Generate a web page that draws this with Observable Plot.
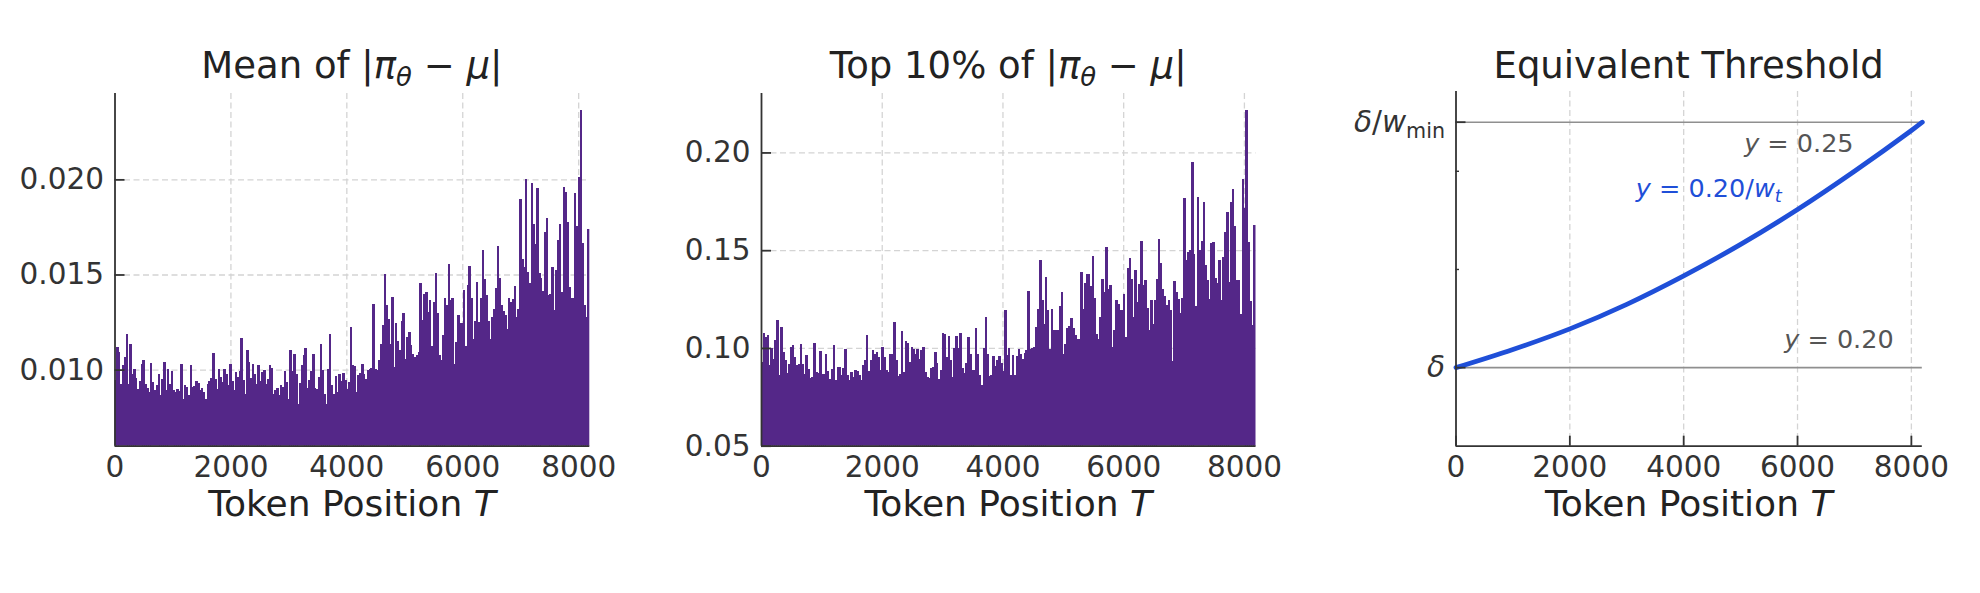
<!DOCTYPE html>
<html><head><meta charset="utf-8">
<script src="https://cdn.jsdelivr.net/npm/d3@7"></script>
<script src="https://cdn.jsdelivr.net/npm/@observablehq/plot@0.6"></script>
<style>
html,body{margin:0;padding:0;background:#fff;}
#fig{position:relative;width:1980px;height:593px;overflow:hidden;background:#fff;}
.panel{position:absolute;top:0;width:660px;height:593px;}
#overlay{position:absolute;left:0;top:0;pointer-events:none;}
</style></head><body><div id="fig"></div>
<script>
// ---------------- data ----------------
const T_MAX = 8192;
const xTicks = [0, 2000, 4000, 6000, 8000];
const meanTicks = [0.010, 0.015, 0.020];
const topTicks = [0.05, 0.10, 0.15, 0.20];
const meanDomain = [0.006, 0.02454];
const topDomain = [0.05, 0.2304];
const thrDomain = [0.184, 0.25625];
const thrMajor = [0.20, 0.25];
const thrMinor = [0.22, 0.24];
const thrLabels = ["*δ*", "*δ*/*w*_{min}"];

// Mean of |pi_theta - mu| per token bin
const meanDev = [
0.00944,0.01119,0.01093,0.00926,0.01023,0.01067,0.01189,0.00926,0.01132,0.00975,
0.01005,0.00958,0.00896,0.00940,0.01032,0.01049,0.00926,0.00905,0.00882,0.01037,
0.00935,0.00891,0.00918,0.00979,0.00868,0.00950,0.01039,0.00891,0.01002,0.00926,
0.00991,0.00891,0.00882,0.00900,0.00890,0.01032,0.00847,0.00919,0.00909,0.00865,
0.01023,0.00909,0.00915,0.00940,0.00930,0.00891,0.00902,0.00882,0.00844,0.00925,
0.00940,0.00958,0.01089,0.00953,0.00900,0.01004,0.00961,0.00935,0.01002,0.00975,
0.00918,0.01028,0.00940,0.00891,0.00988,0.00960,0.00993,0.01168,0.00947,0.00874,
0.01105,0.01040,0.00955,0.01028,0.00979,0.00926,0.01023,0.00940,0.00988,0.00996,
0.00926,0.00950,0.01023,0.01010,
0.00874,0.00891,0.00905,0.00865,0.00918,0.00909,0.00991,0.00935,0.00847,0.01102,
0.00991,0.01084,0.00979,0.00821,0.00930,0.01023,0.01075,0.01116,0.00904,0.00944,
0.00991,0.01081,0.00904,0.00900,0.00960,0.01132,0.00996,0.00870,0.00821,0.01005,
0.01186,0.00918,0.00874,0.00967,0.00882,0.00979,0.00940,0.00982,0.00944,0.00900,
0.00935,0.01225,0.01026,0.01018,0.00882,0.00970,0.00982,0.01028,0.00979,0.00953,
0.00996,0.01005,0.01009,0.01344,0.01005,0.00996,0.01053,0.01137,0.01233,0.01500,
0.01339,0.01268,0.01137,0.01382,0.01014,0.01247,0.01151,0.01102,0.01254,0.01295,
0.01058,0.01172,0.01198,0.01128,0.01084,0.01067,0.01075,0.01093,0.01456,0.01260,
0.01400,0.01410,0.01303,0.01365,
0.01123,0.01354,0.01509,0.01298,0.01075,0.01049,0.01184,0.01379,0.01339,0.01554,
0.01368,0.01374,0.01032,0.01146,0.01286,0.01246,0.01246,0.01417,0.01125,0.01444,
0.01544,0.01374,0.01160,0.01256,0.01458,0.01249,0.01379,0.01628,0.01475,0.01393,
0.01256,0.01163,0.01274,0.01316,0.01430,0.01649,0.01479,0.01339,0.01307,0.01289,
0.01216,0.01374,0.01353,0.01370,0.01440,0.01277,0.01316,0.01896,0.01584,0.01537,
0.02000,0.01514,0.01453,0.01979,0.01763,0.01658,0.01952,0.01509,0.01484,0.01414,
0.01721,0.01798,0.01391,0.01396,0.01540,0.01312,0.01523,0.01681,0.01768,0.01409,
0.01961,0.01935,0.01777,0.01435,0.01379,0.01379,0.01926,0.01754,0.02014,0.02365,
0.01663,0.01339,0.01277,0.01737
];

// Top 10% of |pi_theta - mu| per token bin
const top10Dev = [
0.0928,0.1077,0.1056,0.1068,0.0911,0.1002,0.0945,0.1039,0.1145,0.0860,
0.1107,0.0980,0.0937,0.0872,0.0916,0.1005,0.1017,0.0954,0.0911,0.0916,
0.1019,0.0916,0.0865,0.0962,0.0894,0.0848,0.0852,0.1026,0.0877,0.0872,
0.0985,0.0869,0.0869,0.0971,0.0882,0.0843,0.0894,0.1014,0.0835,0.0903,
0.0903,0.0860,0.0899,0.0995,0.0860,0.0835,0.0877,0.0852,0.0889,0.0881,
0.0860,0.0838,0.0911,0.0940,0.1065,0.0882,0.0937,0.0988,0.0971,0.0980,
0.0954,0.0886,0.1005,0.0954,0.0886,0.0877,0.0971,0.0971,0.1133,0.0940,
0.0855,0.0865,0.1087,0.0877,0.1034,0.1026,0.0928,0.1005,0.0997,0.0971,
0.0997,0.0945,
0.0991,0.1005,0.0877,0.0852,0.0848,0.0899,0.0903,0.0980,0.0923,0.0843,
0.0889,0.1077,0.1073,0.0954,0.1060,0.0940,0.0852,0.1002,0.1061,0.1002,
0.1078,0.0899,0.0872,0.0923,0.1056,0.0968,0.0886,0.0889,0.1104,0.0971,
0.0864,0.0809,0.1002,0.1157,0.0971,0.0855,0.0860,0.0957,0.0908,0.0940,
0.0957,0.0923,0.0882,0.1193,0.0962,0.1002,0.0860,0.0962,0.0860,0.0957,
0.0997,0.0971,0.0945,0.0976,0.0988,0.1292,0.0997,0.1000,0.1005,0.1107,
0.1201,0.1452,0.1247,0.1125,0.1363,0.1196,0.0997,0.1201,0.1090,0.1090,
0.1090,0.1213,0.1287,0.0971,0.1022,0.1101,0.1114,0.1155,0.1104,0.1065,
0.1048,0.1048,0.1389,0.1201,0.1333,0.1380,
0.1380,0.1316,0.1471,0.1258,0.1073,0.1048,0.1159,0.1355,0.1287,0.1514,
0.1299,0.1321,0.1005,0.1094,0.1247,0.1227,0.1193,0.1196,0.1278,0.1056,
0.1411,0.1462,0.1355,0.1159,0.1397,0.1235,0.1329,0.1548,0.1321,0.1346,
0.1206,0.1094,0.1244,0.1125,0.1247,0.1355,0.1556,0.1435,0.1299,0.1264,
0.1218,0.1247,0.1196,0.0933,0.1343,0.1287,0.1252,0.1179,0.1258,0.1768,
0.1449,0.1491,0.1503,0.1952,0.1483,0.1213,0.1773,0.1500,0.1548,0.1744,
0.1423,0.1346,0.1252,0.1539,0.1543,0.1360,0.1333,0.1449,0.1247,0.1466,
0.1594,0.1696,0.1338,0.1744,0.1812,0.1623,0.1350,0.1350,0.1172,0.1862,
0.1718,0.2216,0.1543,0.1241,0.1116,0.1628
];

// Equivalent threshold curve y = 0.20 / w_t
const thrT = [0, 1000, 2000, 3000, 4000, 5000, 6000, 7000, 8000, 8192];
const thrY = [0.2000, 0.2037, 0.2079, 0.2129, 0.2187, 0.2251, 0.2322, 0.2400, 0.2483, 0.2500];
const refLines = [0.20, 0.25];

// annotations in the threshold panel
const noteX = [5062, 5766, 3160];
const noteY = [0.2440, 0.2040, 0.2348];
const noteText = ["*y* = 0.25", "*y* = 0.20", "*y* = 0.20/*w*_{*t*}"];
const noteColor = ["#555555", "#555555", "#1f4fd8"];

const titles = ["Mean of |*π*_{*θ*} − *μ*|", "Top 10% of |*π*_{*θ*} − *μ*|", "Equivalent Threshold"];
const xLabel = "Token Position *T*";

// ---------------- helpers ----------------
const FONT = '"DejaVu Sans", "Liberation Sans", sans-serif';
const INK = "#333333";
const PURPLE = "#542788";
const BLUE = "#1f4fd8";
const GRID = {stroke: "#d4d4d4", strokeOpacity: 1, strokeWidth: 1.3, strokeDasharray: "6,3.5"};
const TICK_FS = 29.5;
const TITLE_FS = 37;

function toBars(values) {
  const w = T_MAX / values.length;
  return values.map((v, i) => ({x1: i * w, x2: (i + 1) * w, v}));
}
function parseRich(s) {
  const out = []; let i = 0, sub = false, italic = false, buf = "";
  const push = () => { if (buf) { out.push({text: buf, italic, sub}); buf = ""; } };
  while (i < s.length) {
    const c = s[i];
    if (c === "*") { push(); italic = !italic; i++; continue; }
    if (c === "_" && s[i + 1] === "{") { push(); sub = true; i += 2; continue; }
    if (c === "}" && sub) { push(); sub = false; i++; continue; }
    buf += c; i++;
  }
  push(); return out;
}
function setRich(el, s, size) {
  const t = d3.select(el); t.text(null);
  let shifted = false;
  for (const seg of parseRich(s)) {
    const ts = t.append("tspan").text(seg.text);
    if (seg.italic) ts.attr("font-style", "italic");
    if (seg.sub) {
      ts.attr("font-size", size * 0.7);
      if (!shifted) { ts.attr("dy", size * 0.22); shifted = true; }
    } else if (shifted) { ts.attr("dy", -size * 0.22); shifted = false; }
  }
}
function richify(svg) {
  d3.select(svg).selectAll("text").each(function () {
    const s = this.textContent;
    if (s.includes("*") || s.includes("_{")) {
      const size = parseFloat(getComputedStyle(this).fontSize) || TICK_FS;
      setRich(this, s, size);
    }
  });
}
const baseStyle = {fontFamily: FONT, fontSize: TICK_FS + "px", color: INK, background: "transparent", overflow: "visible"};

function barPanel(values, domain, yTicks, fmt, margins) {
  return Plot.plot({
    width: 660, height: 593, ...margins,
    style: baseStyle,
    x: {domain: [0, T_MAX], label: null},
    y: {domain, label: null},
    marks: [
      Plot.gridX(xTicks.slice(1), GRID),
      Plot.gridY(yTicks, GRID),
      Plot.rect(toBars(values), {x1: "x1", x2: "x2", y1: 0, y2: "v", fill: PURPLE, clip: true, insetLeft: -0.3, insetRight: -0.3, shapeRendering: "crispEdges"}),
      Plot.ruleX([0], {stroke: INK, strokeWidth: 1.8}),
      Plot.ruleY([domain[0]], {stroke: INK, strokeWidth: 1.8}),
      Plot.axisY(yTicks, {tickSize: -10, tickFormat: () => "", stroke: INK, strokeWidth: 1.8, label: null}),
      Plot.axisY(yTicks, {tickSize: 0, tickPadding: 11, tickFormat: d3.format(fmt), fill: INK, fontSize: TICK_FS, label: null}),
      Plot.axisX(xTicks, {tickSize: 0, tickPadding: 10, tickFormat: d3.format("d"), fill: INK, fontSize: TICK_FS, label: null})
    ]
  });
}

// ---------------- build ----------------
const fig = document.getElementById("fig");
const layouts = [
  {left: 0, m: {marginLeft: 114.5, marginRight: 70.7, marginTop: 93, marginBottom: 147.3}},
  {left: 660, m: {marginLeft: 101, marginRight: 64.5, marginTop: 93, marginBottom: 147.3}},
  {left: 1320, m: {marginLeft: 135.5, marginRight: 58.2, marginTop: 91, marginBottom: 147.3}}
];

const p1 = barPanel(meanDev, meanDomain, meanTicks, ".3f", layouts[0].m);
const p2 = barPanel(top10Dev, topDomain, topTicks, ".2f", layouts[1].m);

const thrData = thrT.map((t, i) => ({t, y: thrY[i]}));
const notes = noteX.map((x, i) => ({x, y: noteY[i], text: noteText[i], color: noteColor[i]}));
const p3 = Plot.plot({
  width: 660, height: 593, ...layouts[2].m,
  style: baseStyle,
  x: {domain: [0, T_MAX], label: null},
  y: {domain: thrDomain, label: null},
  marks: [
    Plot.gridX(xTicks.slice(1), GRID),
    Plot.ruleY(refLines, {stroke: "#8f8f8f", strokeWidth: 1.6}),
    Plot.line(thrData, {x: "t", y: "y", stroke: BLUE, strokeWidth: 4.8, curve: "catmull-rom"}),
    Plot.text(notes, {x: "x", y: "y", text: "text", fill: "color", textAnchor: "start", lineAnchor: "bottom", fontSize: 25.5}),
    Plot.ruleX([0], {stroke: INK, strokeWidth: 1.8}),
    Plot.ruleY([thrDomain[0]], {stroke: INK, strokeWidth: 1.8}),
    Plot.axisY(thrMajor, {tickSize: -10, tickFormat: () => "", stroke: INK, strokeWidth: 1.8, label: null}),
    Plot.axisY(thrMinor, {tickSize: -3.5, tickFormat: () => "", stroke: INK, strokeWidth: 1.4, label: null}),
    Plot.axisY(thrMajor, {tickSize: 0, tickPadding: 11, tickFormat: d => thrLabels[thrMajor.indexOf(d)], fill: INK, fontSize: TICK_FS, label: null}),
    Plot.axisX(xTicks, {tickSize: -10, tickFormat: () => "", stroke: INK, strokeWidth: 1.8, label: null}),
    Plot.axisX(xTicks, {tickSize: 0, tickPadding: 10, tickFormat: d3.format("d"), fill: INK, fontSize: TICK_FS, label: null})
  ]
});

[p1, p2, p3].forEach((svg, i) => {
  const div = document.createElement("div");
  div.className = "panel";
  div.style.left = layouts[i].left + "px";
  div.appendChild(svg);
  fig.appendChild(div);
  richify(svg);
});

// titles and axis labels
const ov = d3.select(fig).append("svg").attr("id", "overlay")
  .attr("width", 1980).attr("height", 593)
  .attr("font-family", FONT).attr("fill", "#222");
layouts.forEach((L, i) => {
  const cx = L.left + (L.m.marginLeft + 660 - L.m.marginRight) / 2;
  const t = ov.append("text").attr("x", cx).attr("y", 78).attr("text-anchor", "middle").attr("font-size", TITLE_FS);
  setRich(t.node(), titles[i], TITLE_FS);
  const xl = ov.append("text").attr("x", cx).attr("y", 516).attr("text-anchor", "middle").attr("font-size", 36);
  setRich(xl.node(), xLabel, 36);
});
</script></body></html>
